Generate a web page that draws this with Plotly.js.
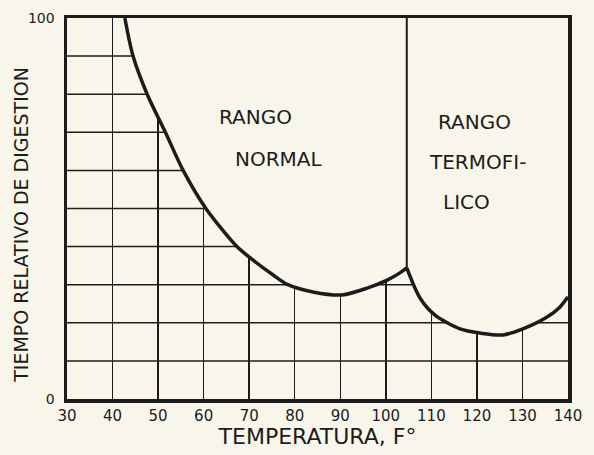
<!DOCTYPE html>
<html>
<head>
<meta charset="utf-8">
<script src="https://cdn.plot.ly/plotly-3.0.1.min.js"></script>
<style>
  html, body { margin: 0; padding: 0; background: #f8f6ea; }
  #chart { width: 594px; height: 455px; }
</style>
</head>
<body>
<div id="chart"></div>
<script>
// Normal (mesophilic) range curve
const normalTemp = [42.7, 44.5, 47.6, 51.6, 55.5, 60.5, 67.3, 70.8, 75.2, 78.5, 84.0, 90.4, 95.9, 100.3, 103.1, 104.6];
const normalTime = [100, 90, 80, 70, 60, 50, 40, 36.5, 32.6, 30, 28.1, 27.3, 29.1, 31.2, 33.1, 34.4];
// Thermophilic range curve
const thermoTemp = [104.6, 107.5, 110.8, 116.3, 120.7, 125.7, 130.1, 135.4, 138.2, 140.0];
const thermoTime = [34.4, 26.5, 22.0, 18.4, 17.3, 16.8, 18.4, 21.5, 24.1, 26.8];
// Axis ticks
const xTicks = [30, 40, 50, 60, 70, 80, 90, 100, 110, 120, 130, 140];
const yTicks = [0, 100];
const yMax = 100;

const BG = '#f8f6ea';
const INK = '#1c1c1c';

const nLast = normalTemp.length - 1;
const tLast = thermoTemp.length - 1;

const traces = [
  {
    x: normalTemp.concat([normalTemp[nLast], normalTemp[0]]),
    y: normalTime.concat([yMax, yMax]),
    mode: 'lines', fill: 'toself', fillcolor: BG,
    line: { width: 0, color: BG }, hoverinfo: 'skip', showlegend: false
  },
  {
    x: thermoTemp.concat([thermoTemp[tLast], thermoTemp[0]]),
    y: thermoTime.concat([yMax, yMax]),
    mode: 'lines', fill: 'toself', fillcolor: BG,
    line: { width: 0, color: BG }, hoverinfo: 'skip', showlegend: false
  },
  {
    x: normalTemp, y: normalTime, mode: 'lines',
    line: { color: INK, width: 3.5, shape: 'spline', smoothing: 0.8 },
    showlegend: false
  },
  {
    x: [normalTemp[nLast], normalTemp[nLast]], y: [normalTime[nLast], yMax], mode: 'lines',
    line: { color: INK, width: 2 }, showlegend: false
  },
  {
    x: thermoTemp, y: thermoTime, mode: 'lines',
    line: { color: INK, width: 3.5, shape: 'spline', smoothing: 0.8 },
    showlegend: false
  }
];

const layout = {
  width: 594, height: 455,
  margin: { l: 67, r: 26, t: 18, b: 56 },
  paper_bgcolor: BG, plot_bgcolor: BG,
  font: { family: 'DejaVu Sans', color: INK },
  xaxis: {
    range: [30, 140], tickvals: xTicks, ticktext: xTicks.map(String),
    showgrid: true, gridcolor: INK, gridwidth: 1.5,
    showline: true, linecolor: INK, linewidth: 3.5, mirror: true,
    ticks: '', zeroline: false,
    tickfont: { size: 15, color: INK },
    title: { text: 'TEMPERATURA, F°', font: { size: 22, color: INK }, standoff: 6 }
  },
  yaxis: {
    range: [0, 100], tickvals: yTicks, ticktext: yTicks.map(String),
    showgrid: false,
    showline: true, linecolor: INK, linewidth: 3.5, mirror: true,
    ticks: 'outside', ticklen: 6, tickcolor: BG, zeroline: false,
    tickfont: { size: 14, color: INK },
    title: { text: '' }
  },
  shapes: [],
  annotations: [
    { xref: 'paper', yref: 'paper', x: -0.092, y: 0.457, textangle: -90,
      xanchor: 'center', yanchor: 'middle',
      text: 'TIEMPO RELATIVO DE DIGESTION', showarrow: false, font: { size: 19, color: INK } },
    { x: 71.3, y: 73.9, text: 'RANGO', showarrow: false, font: { size: 20, color: INK } },
    { x: 76.5, y: 63.1, text: 'NORMAL', showarrow: false, font: { size: 20, color: INK } },
    { x: 119.4, y: 72.6, text: 'RANGO', showarrow: false, font: { size: 20, color: INK } },
    { x: 120.2, y: 62.1, text: 'TERMOFI-', showarrow: false, font: { size: 20, color: INK } },
    { x: 117.8, y: 51.6, text: 'LICO', showarrow: false, font: { size: 20, color: INK } }
  ]
};

for (let v = 10; v < 100; v += 10) {
  layout.shapes.push({
    type: 'line', xref: 'x', yref: 'y', x0: 30, x1: 140, y0: v, y1: v,
    line: { color: INK, width: 1.5 }, layer: 'below'
  });
}

Plotly.newPlot('chart', traces, layout, { displayModeBar: false, staticPlot: true });
</script>
</body>
</html>
